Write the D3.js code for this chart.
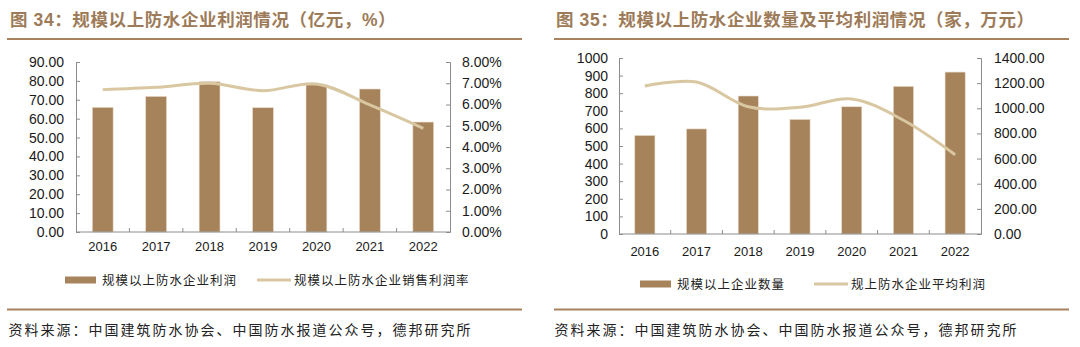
<!DOCTYPE html>
<html lang="zh">
<head>
    <meta charset="UTF-8">
    <title>规模以上防水企业利润情况</title>
    <script src="https://d3js.org/d3.v7.min.js"></script>
    <style>
        body { margin: 0; background: #fff; }
        svg { display: block; }
        .title { font-family: "Liberation Sans", "Noto Sans CJK SC", sans-serif; font-weight: bold; font-size: 17.5px; fill: #9d7b58; letter-spacing: 0.6px; }
        .tick text { font-family: "Liberation Sans", Arial, sans-serif; font-size: 14px; fill: #1a1a1a; }
        .year { font-family: "Liberation Sans", Arial, sans-serif; font-size: 13px; fill: #1a1a1a; }
        .legend { font-family: "Noto Sans CJK SC", sans-serif; font-size: 12.5px; fill: #222; letter-spacing: 1px; }
        .source { font-family: "Noto Sans CJK SC", sans-serif; font-size: 14px; fill: #222; letter-spacing: 2px; }
    </style>
</head>
<body>
<svg width="1080" height="347"></svg>
<script>
    // data
    const years = ["2016", "2017", "2018", "2019", "2020", "2021", "2022"];
    const profit = [66.0, 71.8, 79.6, 65.8, 77.9, 75.7, 58.2];          // 亿元
    const profitRate = [6.70, 6.81, 7.00, 6.65, 6.97, 5.98, 4.88];      // %
    const firmCount = [560, 597, 784, 651, 723, 839, 920];              // 家
    const avgProfit = [1177, 1209, 1012, 1008, 1074, 905, 631];         // 万元

    const barColor = "#a6835b";
    const lineColor = "#d9c7a1";
    const ruleColor = "#a8825e";
    const axisColor = "#8c8c8c";

    const svg = d3.select("svg");

    function drawPanel(o) {
        const g = svg.append("g");

        g.append("text").attr("class", "title")
            .attr("x", o.titleX).attr("y", 26)
            .text(o.title);

        g.append("rect").attr("x", o.ruleX0).attr("y", 38)
            .attr("width", o.ruleX1 - o.ruleX0).attr("height", 2).attr("fill", ruleColor);
        g.append("rect").attr("x", o.ruleX0).attr("y", 308.5)
            .attr("width", o.ruleX1 - o.ruleX0).attr("height", 2).attr("fill", ruleColor);

        const x = d3.scaleBand().domain(years)
            .range([o.left, o.right])
            .paddingInner(0.61).paddingOuter(0.305);
        const yL = d3.scaleLinear().domain([0, o.leftMax]).range([o.bottom, o.top]);
        const yR = d3.scaleLinear().domain([0, o.rightMax]).range([o.bottom, o.top]);

        // bars
        g.append("g").selectAll("rect")
            .data(o.bars)
            .enter().append("rect")
            .attr("x", (d, i) => x(years[i]))
            .attr("y", d => yL(d))
            .attr("width", x.bandwidth())
            .attr("height", d => yL(0) - yL(d))
            .attr("fill", barColor)
            .attr("stroke", "#e9dccb")
            .attr("stroke-width", 0.6);

        // smoothed line
        const line = d3.line()
            .x((d, i) => x(years[i]) + x.bandwidth() / 2)
            .y(d => yR(d))
            .curve(d3.curveCatmullRom.alpha(0.5));
        g.append("path").datum(o.line)
            .attr("d", line)
            .attr("fill", "none")
            .attr("stroke", lineColor)
            .attr("stroke-width", 3)
            .attr("stroke-linecap", "butt");

        // axes
        const axL = d3.axisLeft(yL).tickValues(d3.range(0, o.leftMax + 1e-9, o.leftStep))
            .tickFormat(o.leftFmt).tickSize(-4).tickPadding(o.padL);
        const gL = g.append("g").attr("transform", `translate(${o.left},0)`).call(axL);

        const axR = d3.axisRight(yR).tickValues(d3.range(0, o.rightMax + 1e-9, o.rightStep))
            .tickFormat(o.rightFmt).tickSize(-4).tickPadding(o.padR);
        const gR = g.append("g").attr("transform", `translate(${o.right},0)`).call(axR);

        [gL, gR].forEach(a => {
            a.select(".domain").attr("stroke", axisColor);
            a.selectAll(".tick line").attr("stroke", axisColor);
        });

        // category axis
        g.append("line").attr("x1", o.left).attr("x2", o.right)
            .attr("y1", o.bottom).attr("y2", o.bottom)
            .attr("stroke", axisColor);
        const step = x.step();
        g.append("g").selectAll("line")
            .data(d3.range(1, years.length))
            .enter().append("line")
            .attr("x1", i => o.left + i * step).attr("x2", i => o.left + i * step)
            .attr("y1", o.bottom).attr("y2", o.bottom - 4)
            .attr("stroke", axisColor);
        g.append("g").selectAll("text")
            .data(years)
            .enter().append("text")
            .attr("class", "year")
            .attr("x", d => x(d) + x.bandwidth() / 2)
            .attr("y", o.yearY)
            .attr("text-anchor", "middle")
            .text(d => d);

        // legend
        g.append("rect").attr("x", o.legBarX).attr("y", o.legY - 3.5)
            .attr("width", 31).attr("height", 7).attr("fill", barColor);
        g.append("text").attr("class", "legend")
            .attr("x", o.legBarX + 37).attr("y", o.legY + 4.5)
            .text(o.barName);
        g.append("line").attr("x1", o.legLineX).attr("x2", o.legLineX + 34)
            .attr("y1", o.legY).attr("y2", o.legY)
            .attr("stroke", lineColor).attr("stroke-width", 3);
        g.append("text").attr("class", "legend")
            .attr("x", o.legLineX + 37).attr("y", o.legY + 4.5)
            .text(o.lineName);

        g.append("text").attr("class", "source")
            .attr("x", o.titleX - 1.5).attr("y", 335)
            .text("资料来源：中国建筑防水协会、中国防水报道公众号，德邦研究所");
    }

    drawPanel({
        title: "图 34：规模以上防水企业利润情况（亿元，%）",
        titleX: 10, ruleX0: 7, ruleX1: 522,
        left: 76, right: 450, top: 62, bottom: 232,
        bars: profit, line: profitRate,
        leftMax: 90, leftStep: 10, leftFmt: d3.format(".2f"), padL: 12,
        rightMax: 8, rightStep: 1, rightFmt: d => d3.format(".2f")(d) + "%", padR: 12,
        yearY: 251,
        legY: 280, legBarX: 65, legLineX: 257,
        barName: "规模以上防水企业利润",
        lineName: "规模以上防水企业销售利润率"
    });

    drawPanel({
        title: "图 35：规模以上防水企业数量及平均利润情况（家，万元）",
        titleX: 556, ruleX0: 554, ruleX1: 1069,
        left: 619, right: 981, top: 58, bottom: 234,
        bars: firmCount, line: avgProfit,
        leftMax: 1000, leftStep: 100, leftFmt: d3.format("d"), padL: 11,
        rightMax: 1400, rightStep: 200, rightFmt: d3.format(".2f"), padR: 13,
        yearY: 256,
        legY: 284, legBarX: 640, legLineX: 814,
        barName: "规模以上企业数量",
        lineName: "规上防水企业平均利润"
    });
</script>
</body>
</html>
